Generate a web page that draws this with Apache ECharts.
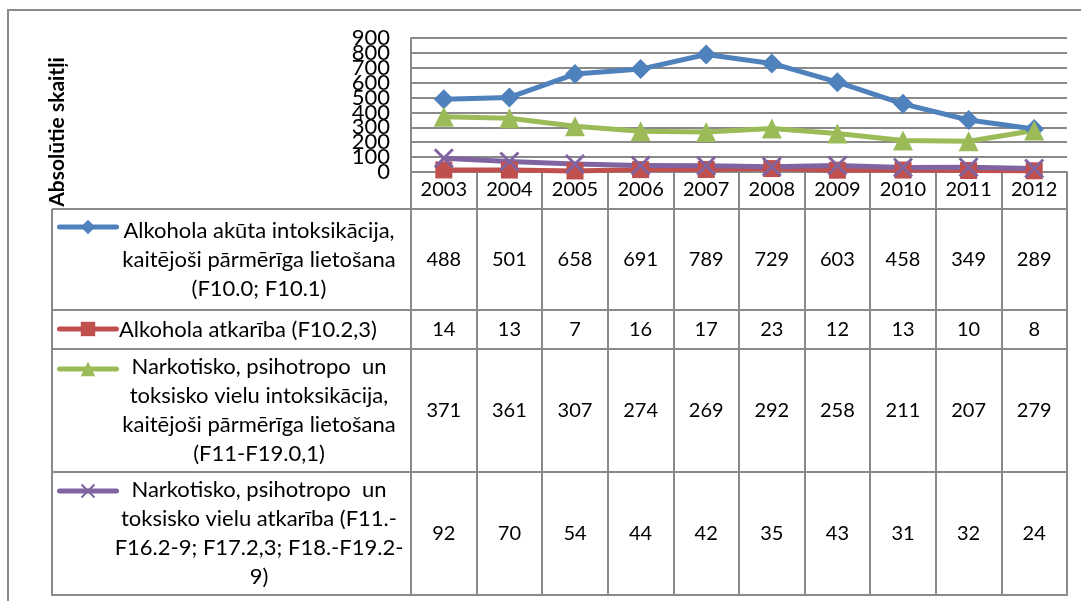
<!DOCTYPE html>
<html>
<head>
<meta charset="utf-8">
<script src="https://cdn.jsdelivr.net/npm/echarts@6/dist/echarts.min.js"></script>
<style>
html, body { margin: 0; padding: 0; background: #fff; }
#chart { width: 1081px; height: 601px; }
</style>
</head>
<body>
<div id="chart"></div>
<script>
const years = ['2003', '2004', '2005', '2006', '2007', '2008', '2009', '2010', '2011', '2012']
const alcoholAcute = [488, 501, 658, 691, 789, 729, 603, 458, 349, 289]
const alcoholDependence = [14, 13, 7, 16, 17, 23, 12, 13, 10, 8]
const drugAcute = [371, 361, 307, 274, 269, 292, 258, 211, 207, 279]
const drugDependence = [92, 70, 54, 44, 42, 35, 43, 31, 32, 24]
const yTicks = { min: 0, max: 900, interval: 100 }

const seriesNames = [
    'Alkohola akūta intoksikācija, kaitējoši pārmērīga lietošana (F10.0; F10.1)',
    'Alkohola atkarība (F10.2,3)',
    'Narkotisko, psihotropo un toksisko vielu intoksikācija, kaitējoši pārmērīga lietošana (F11-F19.0,1)',
    'Narkotisko, psihotropo un toksisko vielu atkarība (F11.-F16.2-9; F17.2,3; F18.-F19.2-9)'
]
const rowLabels = [
    ['Alkohola akūta intoksikācija,', 'kaitējoši pārmērīga lietošana', '(F10.0; F10.1)'],
    ['Alkohola atkarība (F10.2,3)'],
    ['Narkotisko, psihotropo  un', 'toksisko vielu intoksikācija,', 'kaitējoši pārmērīga lietošana', '(F11-F19.0,1)'],
    ['Narkotisko, psihotropo  un', 'toksisko vielu atkarība (F11.-', 'F16.2-9; F17.2,3; F18.-F19.2-', '9)']
]
const allValues = [alcoholAcute, alcoholDependence, drugAcute, drugDependence]
const colors = ['#4F81BD', '#C0504D', '#9BBB59', '#8064A2']
const crossSymbol = 'path://M0,1L1,0L5,4L9,0L10,1L6,5L10,9L9,10L5,6L1,10L0,9L4,5Z'
const symbols = ['diamond', 'rect', 'triangle', crossSymbol]
const symbolSizes = [20, 17, 20, 20]

// layout of the data table under the plot
const FONT = 'Lato'
const GRAY = '#8a8a8a'
const plotLeft = 411, plotRight = 1067, plotTop = 38, plotBottom = 172
const tableLeft = 52, tableBottom = 595
const rowLines = [209, 310, 349, 472, 595]
const rowCenters = rowLines.slice(0, 4).map((y, i) => (y + rowLines[i + 1]) / 2)
const iconY = [227, 329, 369, 491]

const valueAxes = allValues.map((vals, i) => ({
    type: 'category',
    gridIndex: 0,
    position: 'bottom',
    offset: rowCenters[i] - plotBottom,
    data: years,
    axisLine: { show: false },
    axisTick: { show: false },
    axisLabel: {
        interval: 0,
        margin: 0,
        verticalAlign: 'middle',
        fontFamily: FONT,
        fontSize: 20,
        color: '#000',
        formatter: (v, idx) => String(vals[idx])
    }
}))

const tableGraphics = []
tableGraphics.push({
    type: 'rect', silent: true,
    shape: { x: 8, y: 10, width: 1100, height: 620 },
    style: { fill: 'none', stroke: GRAY, lineWidth: 2 }
})
rowLines.forEach(y => {
    tableGraphics.push({
        type: 'line', silent: true,
        shape: { x1: tableLeft, y1: y, x2: plotRight + 1, y2: y },
        style: { stroke: GRAY, lineWidth: 2 }
    })
})
tableGraphics.push({
    type: 'line', silent: true,
    shape: { x1: tableLeft, y1: rowLines[0], x2: tableLeft, y2: tableBottom + 1 },
    style: { stroke: GRAY, lineWidth: 2 }
})
rowLabels.forEach((lines, i) => {
    const single = lines.length === 1
    tableGraphics.push({
        type: 'text', silent: true,
        x: single ? 119 : 259,
        y: rowCenters[i],
        style: {
            text: lines.join('\n'),
            align: single ? 'left' : 'center',
            verticalAlign: 'middle',
            lineHeight: 29,
            fontFamily: FONT,
            fontSize: 22,
            fill: '#000'
        }
    })
})
tableGraphics.push({
    type: 'text', silent: true,
    x: 57, y: 132, rotation: Math.PI / 2,
    style: {
        text: 'Absolūtie skaitļi',
        align: 'center',
        verticalAlign: 'middle',
        fontFamily: FONT,
        fontWeight: 'bold',
        fontSize: 21,
        fill: '#000'
    }
})

const yLabelStyle = {
    margin: 21,
    fontFamily: FONT,
    fontSize: 22,
    lineHeight: 12,
    color: '#000'
}

const option = {
    animation: false,
    backgroundColor: '#fff',
    grid: {
        left: plotLeft,
        right: 1081 - plotRight,
        top: plotTop,
        bottom: 601 - plotBottom,
        containLabel: false,
        outerBoundsMode: 'none'
    },
    legend: seriesNames.map((name, i) => ({
        data: [name],
        left: 57,
        top: iconY[i] - 9,
        padding: 0,
        itemGap: 0,
        itemWidth: 57,
        itemHeight: 18,
        selectedMode: false,
        formatter: () => '',
        lineStyle: { width: 5, cap: 'round' }
    })),
    xAxis: [{
        type: 'category',
        data: years,
        boundaryGap: true,
        axisLine: { lineStyle: { color: GRAY, width: 2 } },
        axisTick: {
            show: true,
            interval: 0,
            length: tableBottom - plotBottom,
            lineStyle: { color: GRAY, width: 2 }
        },
        axisLabel: {
            interval: 0,
            margin: 18,
            verticalAlign: 'middle',
            fontFamily: FONT,
            fontSize: 20,
            color: '#000'
        },
        splitLine: { show: false }
    }].concat(valueAxes),
    yAxis: [{
        // inner labels (100..800), gridlines and axis line
        type: 'value',
        position: 'left',
        min: yTicks.min,
        max: yTicks.max,
        interval: yTicks.interval,
        axisLine: { show: true, lineStyle: { color: GRAY, width: 2 } },
        axisTick: { show: false },
        axisLabel: Object.assign({ showMinLabel: false, showMaxLabel: false }, yLabelStyle),
        splitLine: { lineStyle: { color: GRAY, width: 2 } }
    }, {
        // end labels (0 and 900), kept even though they touch their neighbours
        type: 'value',
        position: 'left',
        offset: 0,
        min: yTicks.min,
        max: yTicks.max,
        interval: yTicks.interval,
        axisLine: { show: false },
        axisTick: { show: false },
        splitLine: { show: false },
        axisLabel: Object.assign({
            showMinLabel: true,
            showMaxLabel: true,
            formatter: v => (v === yTicks.min || v === yTicks.max) ? String(v) : ''
        }, yLabelStyle)
    }],
    series: allValues.map((vals, i) => ({
        name: seriesNames[i],
        type: 'line',
        data: vals,
        symbol: symbols[i],
        symbolSize: symbolSizes[i],
        showAllSymbol: true,
        color: colors[i],
        lineStyle: { width: 5, color: colors[i], cap: 'round', join: 'round' },
        itemStyle: { color: colors[i] }
    })),
    graphic: tableGraphics
}

const chartInstance = echarts.init(document.getElementById('chart'))
chartInstance.setOption(option)
</script>
</body>
</html>
